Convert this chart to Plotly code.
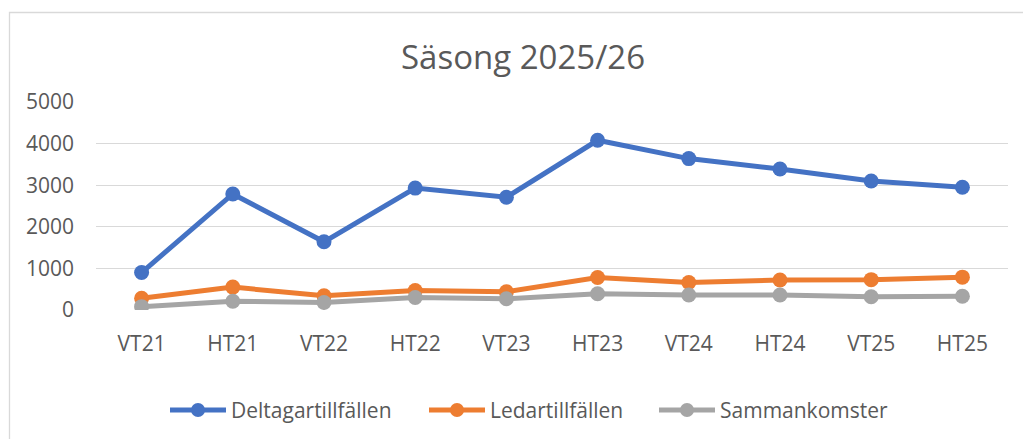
import plotly.graph_objects as go

categories = ["VT21", "HT21", "VT22", "HT22", "VT23", "HT23", "VT24", "HT24", "VT25", "HT25"]
deltagartillfallen = [900, 2790, 1640, 2930, 2710, 4080, 3640, 3390, 3100, 2950]
ledartillfallen = [280, 550, 340, 470, 440, 780, 660, 720, 730, 790]
sammankomster = [80, 210, 180, 300, 270, 390, 360, 360, 320, 330]
y_ticks = [0, 1000, 2000, 3000, 4000, 5000]

series_names = ["Deltagartillfällen", "Ledartillfällen", "Sammankomster"]
series_values = [deltagartillfallen, ledartillfallen, sammankomster]
series_colors = ["#4472C4", "#ED7D31", "#A5A5A5"]

FONT = "Open Sans"
TXT = "#595959"

W, H = 1023, 439
L, R, T, B = 96, 15, 102, 129
pw, ph = W - L - R, H - T - B


def px_x(x):
    return (x - L) / pw


def px_y(y):
    return (H - B - y) / ph


fig = go.Figure()
for name, vals, col in zip(series_names, series_values, series_colors):
    fig.add_trace(go.Scatter(
        x=categories, y=vals, name=name, mode="lines+markers",
        line=dict(color=col, width=5),
        marker=dict(color=col, size=15),
        showlegend=False,
    ))

# manual legend (Excel style: long line with a marker in the middle)
legend_line_starts = [170, 429, 659]
legend_y = 410
shapes = [dict(type="rect", xref="paper", yref="paper",
               x0=px_x(9.5), x1=px_x(1040), y0=px_y(460), y1=px_y(12.5),
               line=dict(color="#D9D9D9", width=1.3), fillcolor="rgba(0,0,0,0)",
               layer="below")]
annotations = []
for name, col, x0 in zip(series_names, series_colors, legend_line_starts):
    x1 = x0 + 56
    xm = (x0 + x1) / 2
    shapes.append(dict(type="line", xref="paper", yref="paper",
                       x0=px_x(x0), x1=px_x(x1), y0=px_y(legend_y), y1=px_y(legend_y),
                       line=dict(color=col, width=5)))
    shapes.append(dict(type="circle", xref="paper", yref="paper",
                       x0=px_x(xm - 7), x1=px_x(xm + 7),
                       y0=px_y(legend_y + 7), y1=px_y(legend_y - 7),
                       line=dict(color=col, width=0), fillcolor=col))
    annotations.append(dict(text=name, xref="paper", yref="paper",
                            x=px_x(x1 + 3), y=px_y(legend_y), xanchor="left",
                            yanchor="middle", showarrow=False,
                            font=dict(family=FONT, size=21, color=TXT)))

fig.update_layout(
    width=W, height=H,
    margin=dict(l=L, r=R, t=T, b=B),
    paper_bgcolor="white", plot_bgcolor="white",
    font=dict(family=FONT, color=TXT),
    title=dict(text="Säsong 2025/26", x=523 / W, xanchor="center", xref="container",
               y=1 - 57 / H, yanchor="middle",
               font=dict(family=FONT, size=33, color=TXT)),
    xaxis=dict(type="category", range=[-0.5, 9.5], showgrid=False, zeroline=False,
               showline=False, ticks="", tickfont=dict(size=21, color=TXT),
               ticklabelstandoff=19),
    yaxis=dict(range=[0, 5000], tickvals=y_ticks, showgrid=True, gridcolor="#D9D9D9",
               gridwidth=1.3, zeroline=False, showline=False, ticks="",
               tickfont=dict(size=21, color=TXT), ticklabelstandoff=21),
    showlegend=False,
    shapes=shapes,
    annotations=annotations,
)

fig.write_html("out.html", config={"displayModeBar": False},
               post_script="document.body.style.margin='0';document.body.style.overflow='hidden';")
